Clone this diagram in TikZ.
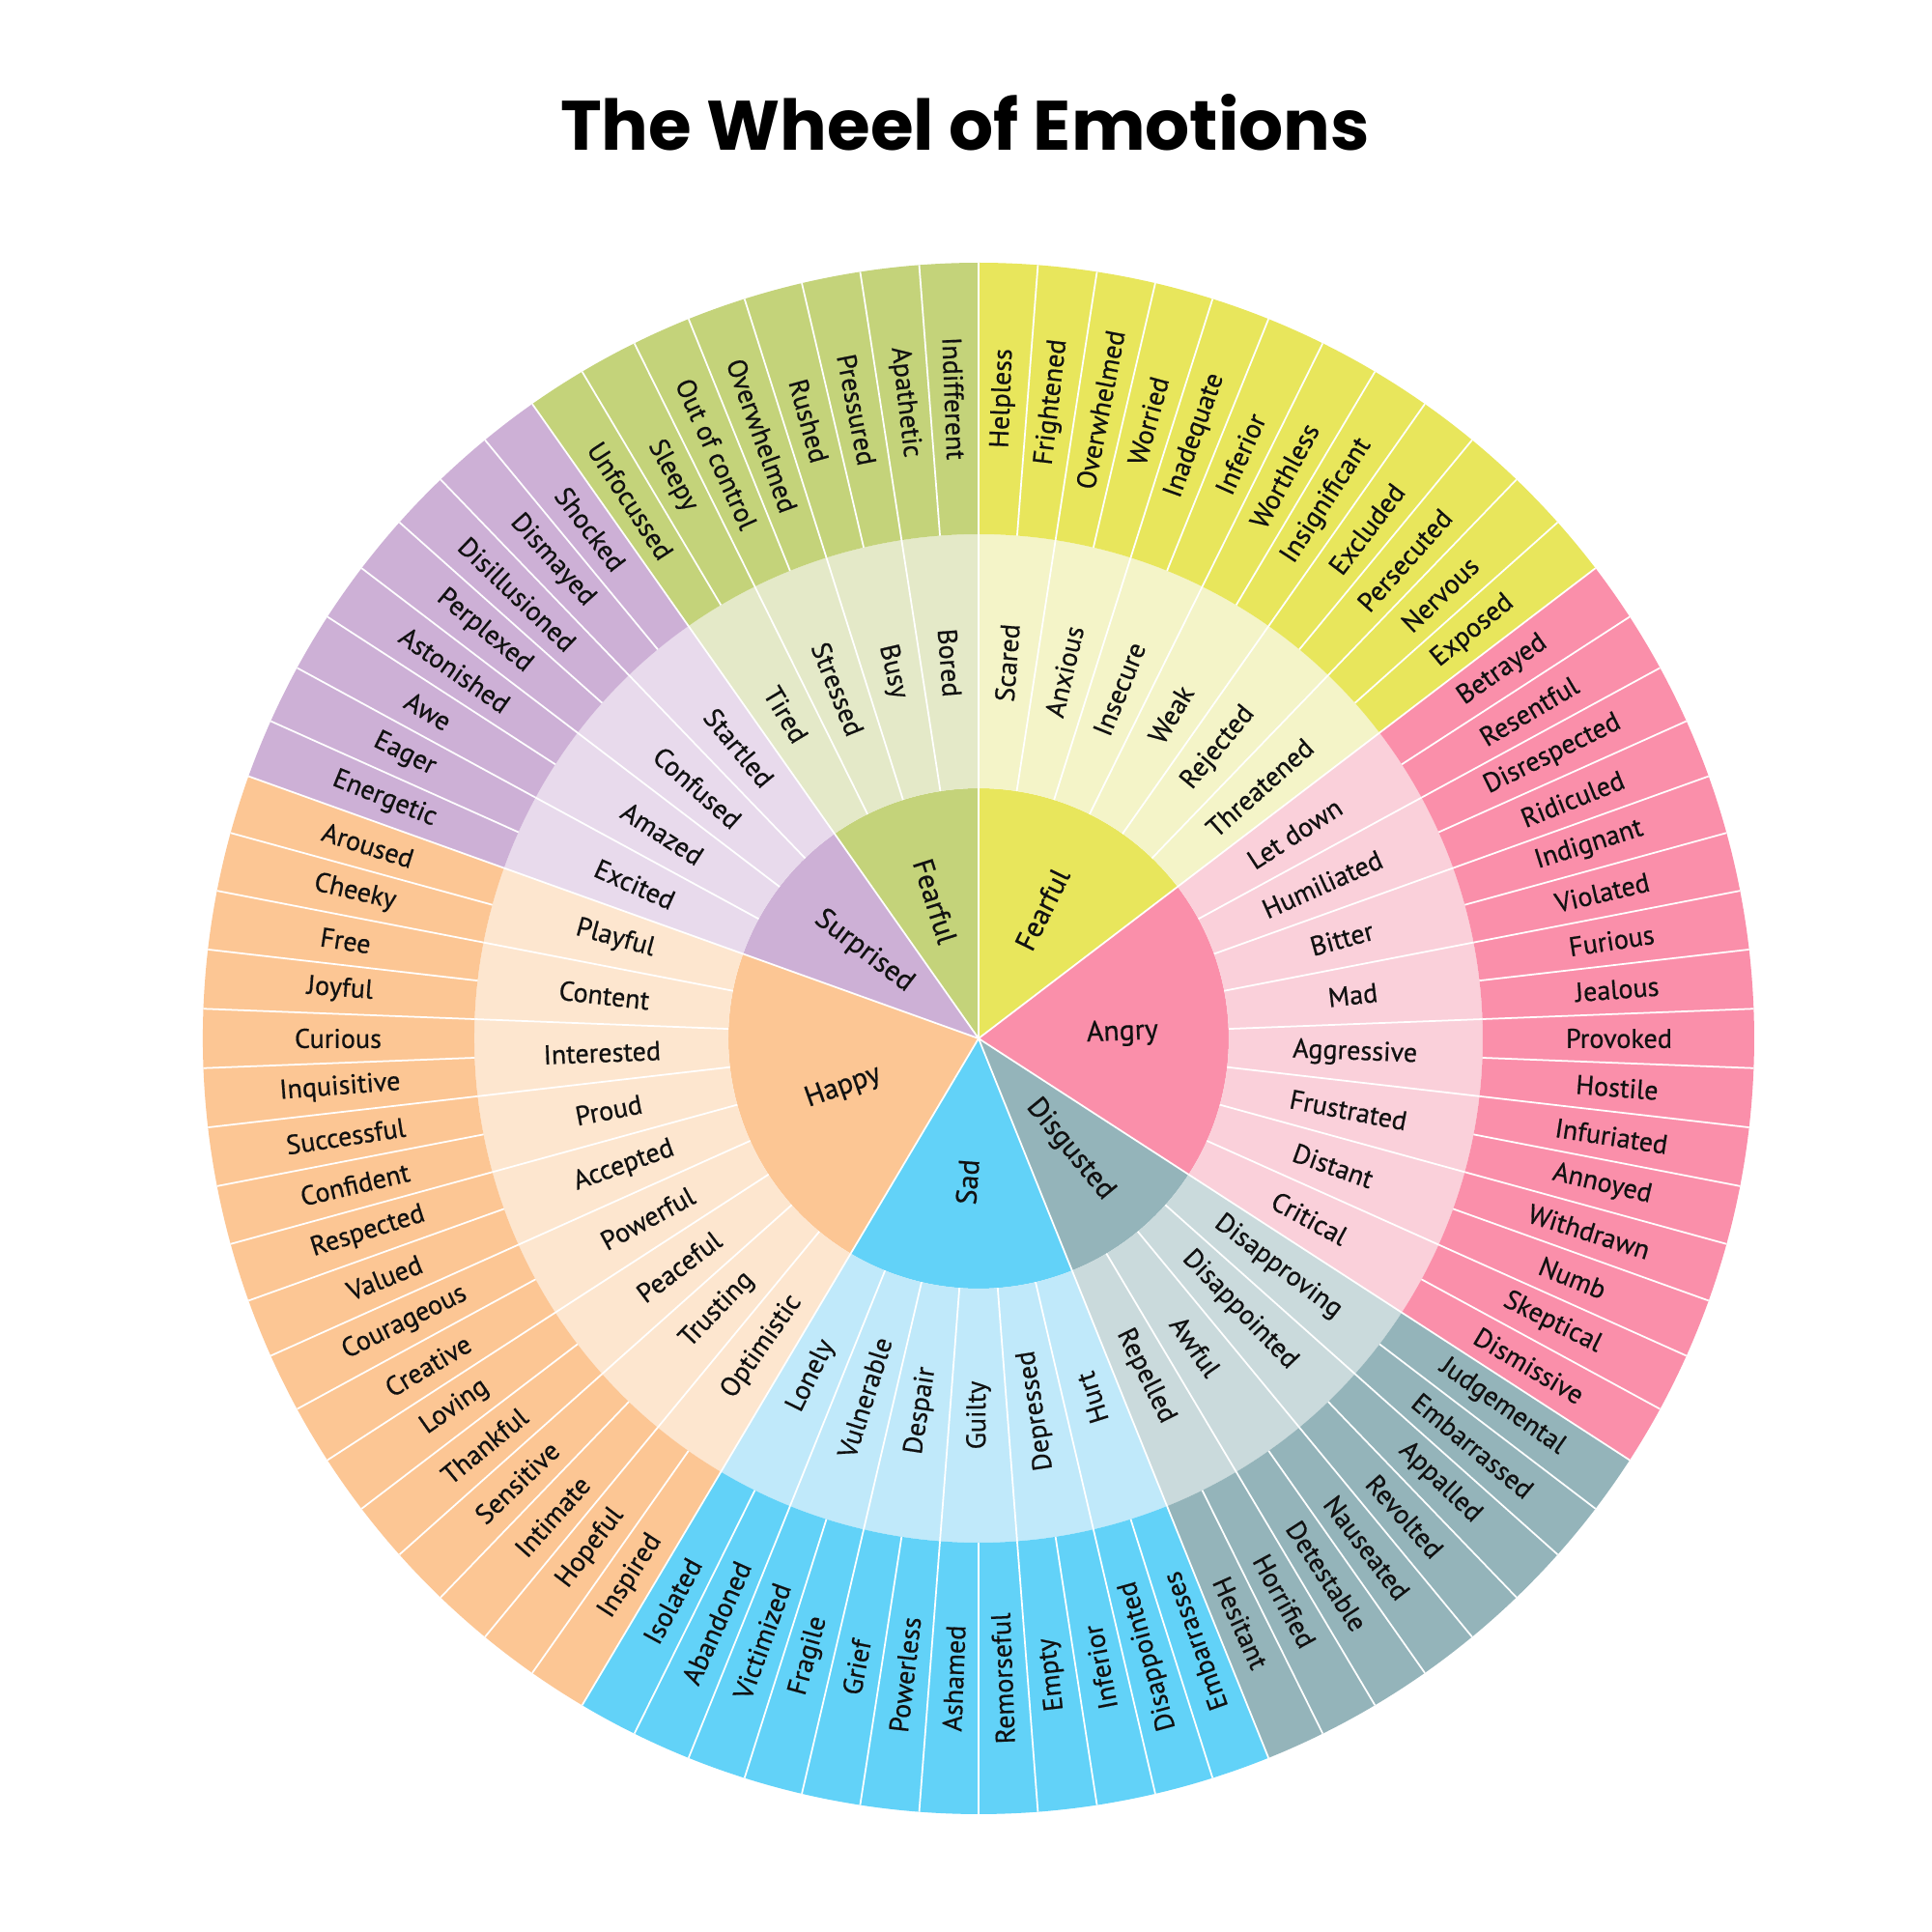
\documentclass[tikz,border=0pt]{standalone}
\usepackage{fontspec}
\newfontfamily\titlefont{Poppins}
\newfontfamily\labelfont[FakeBold=0.6]{PT Sans}
\pgfdeclarelayer{bg}
\pgfdeclarelayer{sep}
\pgfsetlayers{bg,sep,main}
\definecolor{yO}{HTML}{E8E65C}\definecolor{yM}{HTML}{F4F4C8}
\definecolor{pO}{HTML}{FA8FAA}\definecolor{pM}{HTML}{FAD0DA}
\definecolor{tO}{HTML}{94B4BA}\definecolor{tM}{HTML}{CADADC}
\definecolor{bO}{HTML}{62D2F8}\definecolor{bM}{HTML}{C0E9FA}
\definecolor{hO}{HTML}{FCC694}\definecolor{hM}{HTML}{FDE6CF}
\definecolor{sO}{HTML}{CDB0D6}\definecolor{sM}{HTML}{E8DAEC}
\definecolor{gO}{HTML}{C4D37A}\definecolor{gM}{HTML}{E4E9C8}
\definecolor{ink}{HTML}{111111}
\def\U{4.390243902}
\def\Ri{2.59}\def\Rm{5.22}\def\Ro{8.03}
\def\Rlc{1.49}\def\Rlm{3.9}\def\Rlo{6.63}
\tikzset{
  lbl/.style={font=\labelfont\fontsize{8}{9.5}\selectfont, inner sep=0pt, text=ink},
  clbl/.style={font=\labelfont\fontsize{8.5}{10}\selectfont, inner sep=0pt, text=ink},
  sepline/.style={draw=white, line width=0.5pt},
}
\newcommand\emocat[9]{%
  \pgfmathsetmacro\aS{90-#2*\U}%
  \pgfmathsetmacro\aE{90-(#2+#3)*\U}%
  \begin{pgfonlayer}{bg}
    \fill[#4] (0,0) -- (\aS:\Ri) arc[start angle=\aS, end angle=\aE, radius=\Ri] -- cycle;
    \fill[#5] (\aS:\Ri) arc[start angle=\aS, end angle=\aE, radius=\Ri] -- (\aE:\Rm) arc[start angle=\aE, end angle=\aS, radius=\Rm] -- cycle;
    \fill[#4] (\aS:\Rm) arc[start angle=\aS, end angle=\aE, radius=\Rm] -- (\aE:\Ro) arc[start angle=\aE, end angle=\aS, radius=\Ro] -- cycle;
  \end{pgfonlayer}
  \foreach \w [count=\i] in {#7} {
    \pgfmathsetmacro\ang{\aS-(\i-0.5)*\U}
    \pgfmathsetmacro\rot{\ang+#6}
    \node[lbl, rotate=\rot] (#1o\i) at (\ang:\Rlo) {\w};
  }
  \foreach \w [count=\i] in {#8} {
    \pgfmathsetmacro\ang{\aS-(2*\i-1)*\U}
    \pgfmathsetmacro\rot{\ang+#6}
    \node[lbl, rotate=\rot] (#1m\i) at (\ang:\Rlm) {\w};
  }
  \pgfmathsetmacro\ang{(\aS+\aE)/2}%
  \pgfmathsetmacro\rot{\ang+#6}%
  \node[clbl, rotate=\rot] (#1c) at (\ang:\Rlc) {#9};
}
\begin{document}
\begin{tikzpicture}
\begin{pgfonlayer}{bg}
\fill[white] (-10.13,-9.25) rectangle (9.87,10.75);
\end{pgfonlayer}
\useasboundingbox (-10.13,-9.25) rectangle (9.87,10.75);
\node[font=\titlefont\bfseries\fontsize{20.6}{24}\selectfont, anchor=base, text=black] (title) at (-0.14,9.19) {The Wheel of Emotions};
\emocat{y}{0}{12}{yO}{yM}{0}{Helpless,Frightened,Overwhelmed,Worried,Inadequate,Inferior,Worthless,Insignificant,Excluded,Persecuted,Nervous,Exposed}{Scared,Anxious,Insecure,Weak,Rejected,Threatened}{Fearful}
\emocat{p}{12}{16}{pO}{pM}{0}{Betrayed,Resentful,Disrespected,Ridiculed,Indignant,Violated,Furious,Jealous,Provoked,Hostile,Infuriated,Annoyed,Withdrawn,Numb,Skeptical,Dismissive}{Let down,Humiliated,Bitter,Mad,Aggressive,Frustrated,Distant,Critical}{Angry}
\emocat{t}{28}{8}{tO}{tM}{0}{Judgemental,Embarrassed,Appalled,Revolted,Nauseated,Detestable,Horrified,Hesitant}{Disapproving,Disappointed,Awful,Repelled}{Disgusted}
\emocat{b}{36}{12}{bO}{bM}{180}{Embarrasses,Disappointed,Inferior,Empty,Remorseful,Ashamed,Powerless,Grief,Fragile,Victimized,Abandoned,Isolated}{Hurt,Depressed,Guilty,Despair,Vulnerable,Lonely}{Sad}
\emocat{h}{48}{18}{hO}{hM}{180}{Inspired,Hopeful,Intimate,Sensitive,Thankful,Loving,Creative,Courageous,Valued,Respected,Confident,Successful,Inquisitive,Curious,Joyful,Free,Cheeky,Aroused}{Optimistic,Trusting,Peaceful,Powerful,Accepted,Proud,Interested,Content,Playful}{Happy}
\emocat{s}{66}{8}{sO}{sM}{180}{Energetic,Eager,Awe,Astonished,Perplexed,Disillusioned,Dismayed,Shocked}{Excited,Amazed,Confused,Startled}{Surprised}
\emocat{g}{74}{8}{gO}{gM}{180}{Unfocussed,Sleepy,Out of control,Overwhelmed,Rushed,Pressured,Apathetic,Indifferent}{Tired,Stressed,Busy,Bored}{Fearful}
\begin{pgfonlayer}{sep}
\foreach \k in {0,...,81} {
  \pgfmathsetmacro\ang{90-\k*\U}
  \draw[sepline] (\ang:\Rm) -- (\ang:\Ro);
}
\foreach \k in {0,2,...,80} {
  \pgfmathsetmacro\ang{90-\k*\U}
  \draw[sepline] (\ang:\Ri) -- (\ang:\Rm);
}
\foreach \k in {0,12,28,36,48,66,74} {
  \pgfmathsetmacro\ang{90-\k*\U}
  \draw[sepline] (0,0) -- (\ang:\Ri);
}
\end{pgfonlayer}
\end{tikzpicture}
\end{document}
